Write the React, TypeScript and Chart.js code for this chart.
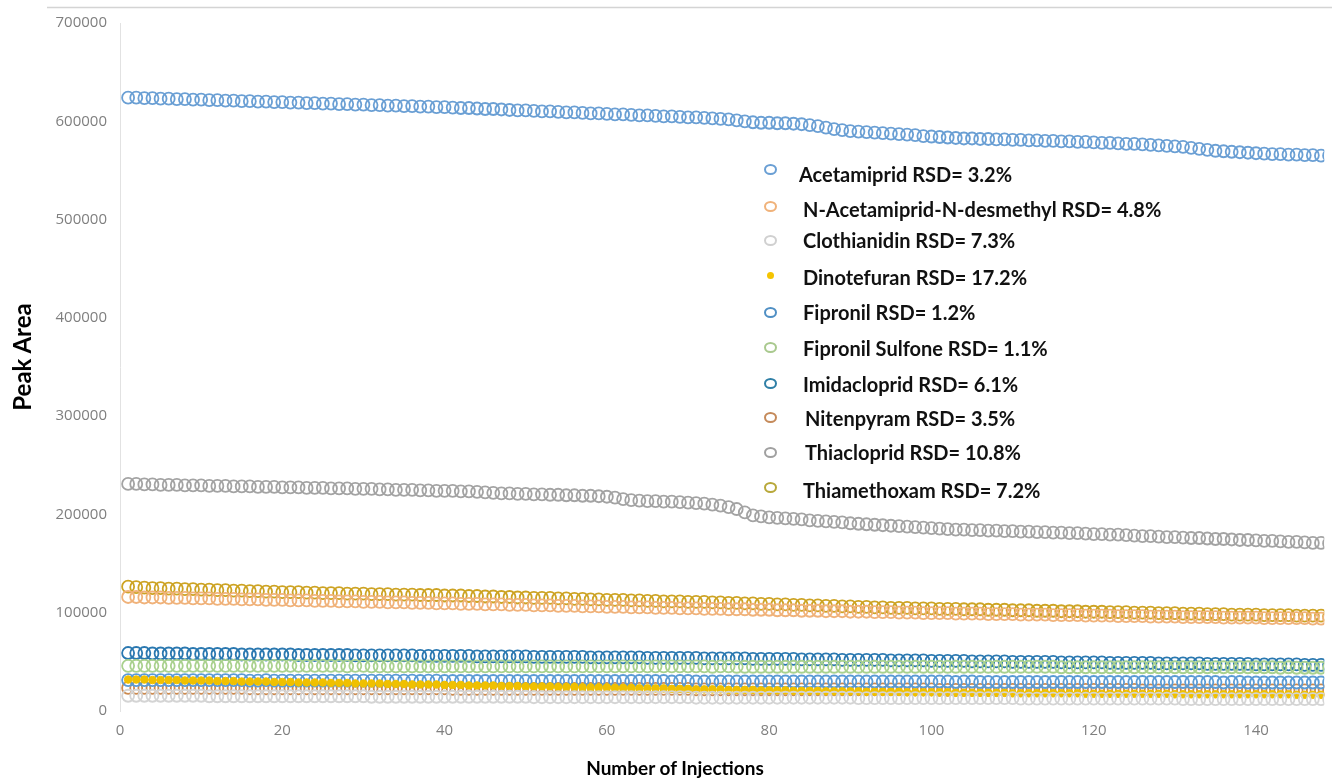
import React, { useEffect, useRef } from "react";
import { Chart, registerables } from "chart.js";

Chart.register(...registerables);

const injections = [
  1, 2, 3, 4, 5, 6, 7, 8, 9, 10, 11, 12, 13, 14, 15, 16, 17, 18, 19, 20,
  21, 22, 23, 24, 25, 26, 27, 28, 29, 30, 31, 32, 33, 34, 35, 36, 37, 38, 39, 40,
  41, 42, 43, 44, 45, 46, 47, 48, 49, 50, 51, 52, 53, 54, 55, 56, 57, 58, 59, 60,
  61, 62, 63, 64, 65, 66, 67, 68, 69, 70, 71, 72, 73, 74, 75, 76, 77, 78, 79, 80,
  81, 82, 83, 84, 85, 86, 87, 88, 89, 90, 91, 92, 93, 94, 95, 96, 97, 98, 99, 100,
  101, 102, 103, 104, 105, 106, 107, 108, 109, 110, 111, 112, 113, 114, 115, 116, 117, 118, 119, 120,
  121, 122, 123, 124, 125, 126, 127, 128, 129, 130, 131, 132, 133, 134, 135, 136, 137, 138, 139, 140,
  141, 142, 143, 144, 145, 146, 147, 148, 149, 150,
];

const compoundNames = [
  "Acetamiprid",
  "N-Acetamiprid-N-desmethyl",
  "Clothianidin",
  "Dinotefuran",
  "Fipronil",
  "Fipronil Sulfone",
  "Imidacloprid",
  "Nitenpyram",
  "Thiacloprid",
  "Thiamethoxam",
];

const rsdValues = ["3.2%", "4.8%", "7.3%", "17.2%", "1.2%", "1.1%", "6.1%", "3.5%", "10.8%", "7.2%"];

const xAxisTitle = "Number of Injections";
const yAxisTitle = "Peak Area";

const acetamiprid = [
  624000, 624000, 623500, 623500, 623000, 623000, 622500, 622500, 622000, 622000,
  621500, 621500, 621000, 621000, 620500, 620500, 620000, 620000, 619500, 619500,
  619000, 619000, 618500, 618500, 618000, 618000, 617500, 617500, 617000, 617000,
  616500, 616500, 616000, 616000, 615500, 615500, 615000, 615000, 614500, 614500,
  614000, 613500, 613500, 613000, 612500, 612500, 612000, 611500, 611000, 611000,
  610500, 610000, 610000, 609500, 609000, 609000, 608500, 608000, 608000, 607500,
  607000, 607000, 606500, 606000, 606000, 605500, 605000, 605000, 604500, 604000,
  604000, 603500, 603000, 602500, 602000, 601000, 600000, 599000, 598500, 598500,
  598000, 598000, 597500, 597000, 596000, 595000, 593500, 592000, 591000, 590000,
  589500, 589000, 588500, 588000, 587500, 587000, 586500, 586000, 585000, 584500,
  584000, 583500, 583000, 582500, 582500, 582000, 582000, 581500, 581500, 581000,
  581000, 580500, 580500, 580000, 580000, 579500, 579500, 579000, 579000, 578500,
  578000, 578000, 577500, 577000, 577000, 576500, 576000, 575500, 575000, 574500,
  574000, 573000, 572000, 571000, 570000, 569500, 569000, 568500, 568000, 567500,
  567000, 566500, 566500, 566000, 566000, 565500, 565500, 565000, 565000, 564500,
];

const nAcetamipridDesmethyl = [
  116000, 116000, 115500, 115500, 115500, 115000, 115000, 115000, 114500, 114500,
  114500, 114000, 114000, 114000, 113500, 113500, 113500, 113000, 113000, 113000,
  112500, 112500, 112500, 112000, 112000, 112000, 111500, 111500, 111500, 111000,
  111000, 111000, 110500, 110500, 110500, 110000, 110000, 110000, 109500, 109500,
  109500, 109000, 109000, 109000, 108500, 108500, 108500, 108000, 108000, 108000,
  107500, 107500, 107500, 107000, 107000, 107000, 106500, 106500, 106500, 106000,
  106000, 106000, 105500, 105500, 105500, 105000, 105000, 105000, 104500, 104500,
  104500, 104000, 104000, 104000, 103500, 103500, 103500, 103000, 103000, 103000,
  102500, 102500, 102500, 102000, 102000, 102000, 101500, 101500, 101500, 101000,
  101000, 101000, 100500, 100500, 100500, 100000, 100000, 100000, 99500, 99500,
  99500, 99500, 99000, 99000, 99000, 99000, 98500, 98500, 98500, 98500,
  98000, 98000, 98000, 98000, 97500, 97500, 97500, 97500, 97000, 97000,
  97000, 97000, 96500, 96500, 96500, 96500, 96000, 96000, 96000, 96000,
  95500, 95500, 95500, 95500, 95500, 95000, 95000, 95000, 95000, 95000,
  94500, 94500, 94500, 94500, 94500, 94500, 94000, 94000, 94000, 94000,
];

const clothianidin = [
  15500, 15500, 15500, 15500, 15500, 15500, 15500, 15500, 15500, 15500,
  15000, 15000, 15000, 15000, 15000, 15000, 15000, 15000, 15000, 15000,
  15000, 15000, 15000, 15000, 15000, 15000, 15000, 15000, 15000, 15000,
  14500, 14500, 14500, 14500, 14500, 14500, 14500, 14500, 14500, 14500,
  14500, 14500, 14500, 14500, 14500, 14500, 14500, 14500, 14500, 14500,
  14000, 14000, 14000, 14000, 14000, 14000, 14000, 14000, 14000, 14000,
  14000, 14000, 14000, 14000, 14000, 14000, 14000, 14000, 14000, 14000,
  13500, 13500, 13500, 13500, 13500, 13500, 13500, 13500, 13500, 13500,
  13500, 13500, 13500, 13500, 13500, 13500, 13500, 13500, 13500, 13500,
  13000, 13000, 13000, 13000, 13000, 13000, 13000, 13000, 13000, 13000,
  13000, 13000, 13000, 13000, 13000, 13000, 13000, 13000, 13000, 13000,
  12500, 12500, 12500, 12500, 12500, 12500, 12500, 12500, 12500, 12500,
  12500, 12500, 12500, 12500, 12500, 12500, 12500, 12500, 12500, 12500,
  12000, 12000, 12000, 12000, 12000, 12000, 12000, 12000, 12000, 12000,
  12000, 12000, 12000, 12000, 12000, 12000, 12000, 12000, 12000, 12000,
];

const dinotefuran = [
  32000, 32000, 32000, 31500, 31500, 31500, 31500, 31000, 31000, 31000,
  31000, 30500, 30500, 30500, 30000, 30000, 30000, 30000, 29500, 29500,
  29500, 29000, 29000, 29000, 29000, 28500, 28500, 28500, 28000, 28000,
  28000, 28000, 27500, 27500, 27500, 27000, 27000, 27000, 27000, 26500,
  26500, 26500, 26000, 26000, 26000, 26000, 25500, 25500, 25500, 25000,
  25000, 25000, 25000, 24500, 24500, 24500, 24000, 24000, 24000, 24000,
  23500, 23500, 23500, 23000, 23000, 23000, 23000, 22500, 22500, 22500,
  22000, 22000, 22000, 22000, 21500, 21500, 21500, 21500, 21000, 21000,
  21000, 21000, 20500, 20500, 20500, 20500, 20000, 20000, 20000, 20000,
  20000, 19500, 19500, 19500, 19500, 19500, 19000, 19000, 19000, 19000,
  19000, 19000, 18500, 18500, 18500, 18500, 18500, 18500, 18500, 18000,
  18000, 18000, 18000, 18000, 18000, 18000, 18000, 18000, 17500, 17500,
  17500, 17500, 17500, 17500, 17500, 17500, 17500, 17500, 17500, 17000,
  17000, 17000, 17000, 17000, 17000, 17000, 17000, 17000, 17000, 17000,
  17000, 17000, 17000, 17000, 16500, 16500, 16500, 16500, 16500, 16500,
];

const fipronil = [
  31500, 31500, 31500, 31500, 31500, 31500, 31500, 31500, 31500, 31500,
  31500, 31500, 31500, 31500, 31500, 31000, 31000, 31500, 31000, 31000,
  31000, 31000, 31000, 31000, 31000, 31000, 31000, 31000, 31000, 31000,
  31000, 31000, 31000, 31000, 31000, 31000, 30500, 31000, 31000, 30500,
  30500, 30500, 30500, 30500, 30500, 30500, 30500, 30500, 30500, 30500,
  30500, 30500, 30500, 30500, 30500, 30500, 30500, 30500, 30500, 30500,
  30500, 30500, 30500, 30500, 30500, 30500, 30500, 30000, 30500, 30500,
  30000, 30000, 30000, 30000, 30000, 30000, 30000, 30000, 30000, 30000,
  30000, 30000, 30000, 30000, 30000, 30000, 30000, 30000, 30000, 30000,
  30000, 30000, 30000, 30000, 30000, 30000, 30000, 30000, 30000, 30000,
  30000, 30000, 29500, 30000, 30000, 29500, 29500, 29500, 29500, 29500,
  29500, 29500, 29500, 29500, 29500, 29500, 29500, 29500, 29500, 29500,
  29500, 29500, 29500, 29500, 29500, 29500, 29500, 29500, 29500, 29500,
  29500, 29500, 29500, 29500, 29500, 29000, 29500, 29500, 29000, 29000,
  29000, 29000, 29000, 29000, 29000, 29000, 29000, 29000, 29000, 29000,
];

const fipronilSulfone = [
  46000, 46000, 46000, 46000, 46000, 46000, 46000, 46000, 46000, 46000,
  46000, 46000, 46000, 46000, 46000, 46000, 46000, 46000, 46000, 46000,
  46000, 46000, 46000, 46000, 46000, 46000, 46000, 45500, 46000, 46000,
  45500, 45500, 45500, 45500, 45500, 45500, 45500, 45500, 45500, 45500,
  45500, 45500, 45500, 45500, 45500, 45500, 45500, 45500, 45500, 45500,
  45500, 45500, 45500, 45500, 45500, 45500, 45500, 45500, 45500, 45500,
  45500, 45500, 45500, 45500, 45500, 45500, 45500, 45500, 45500, 45500,
  45500, 45500, 45000, 45500, 45500, 45000, 45000, 45000, 45000, 45000,
  45000, 45000, 45000, 45000, 45000, 45000, 45000, 45000, 45000, 45000,
  45000, 45000, 45000, 45000, 45000, 45000, 45000, 45000, 45000, 45000,
  45000, 45000, 45000, 45000, 45000, 45000, 45000, 45000, 45000, 45000,
  45000, 45000, 45000, 45000, 45000, 44500, 44500, 44500, 44500, 44500,
  44500, 44500, 44500, 44500, 44500, 44500, 44500, 44500, 44500, 44500,
  44500, 44500, 44500, 44500, 44500, 44500, 44500, 44500, 44500, 44500,
  44500, 44500, 44000, 44500, 44000, 44000, 44000, 44000, 44000, 44000,
];

const imidacloprid = [
  59000, 59000, 59000, 58500, 58500, 58500, 58500, 58500, 58000, 58000,
  58000, 58000, 58000, 58000, 57500, 57500, 57500, 57500, 57500, 57500,
  57500, 57000, 57000, 57000, 57000, 57000, 57000, 57000, 56500, 56500,
  56500, 56500, 56500, 56500, 56500, 56500, 56000, 56000, 56000, 56000,
  56000, 56000, 56000, 55500, 55500, 55500, 55500, 55500, 55500, 55500,
  55000, 55000, 55000, 55000, 55000, 55000, 55000, 54500, 54500, 54500,
  54500, 54500, 54500, 54500, 54000, 54000, 54000, 54000, 54000, 54000,
  54000, 53500, 53500, 53500, 53500, 53500, 53500, 53000, 53000, 53000,
  53000, 53000, 53000, 52500, 52500, 52500, 52500, 52500, 52000, 52000,
  52000, 52000, 52000, 52000, 51500, 51500, 51500, 51500, 51500, 51000,
  51000, 51000, 51000, 51000, 50500, 50500, 50500, 50500, 50500, 50000,
  50000, 50000, 50000, 50000, 50000, 49500, 49500, 49500, 49500, 49500,
  49500, 49000, 49000, 49000, 49000, 49000, 49000, 48500, 48500, 48500,
  48500, 48500, 48500, 48000, 48000, 48000, 48000, 48000, 48000, 47500,
  47500, 47500, 47500, 47500, 47500, 47000, 47000, 47000, 47000, 47000,
];

const nitenpyram = [
  23500, 23500, 23500, 23500, 23500, 23500, 23500, 23500, 23500, 23500,
  23500, 23500, 23500, 23500, 23500, 23000, 23000, 23000, 23000, 23000,
  23000, 23000, 23000, 23000, 23000, 23000, 23000, 23000, 23000, 23000,
  23000, 23000, 23000, 23000, 23000, 23000, 23000, 23000, 23000, 23000,
  22500, 22500, 22500, 22500, 22500, 22500, 22500, 22500, 22500, 22500,
  22500, 22500, 22500, 22500, 22500, 22500, 22500, 22500, 22500, 22500,
  22500, 22500, 22500, 22500, 22500, 22500, 22500, 22500, 22500, 22500,
  22000, 22000, 22000, 22000, 22000, 22000, 22000, 22000, 22000, 22000,
  22000, 22000, 22000, 22000, 22000, 22000, 22000, 22000, 22000, 22000,
  22000, 22000, 22000, 22000, 22000, 22000, 22000, 22000, 22000, 22000,
  21500, 21500, 21500, 21500, 21500, 21500, 21500, 21500, 21500, 21500,
  21500, 21500, 21500, 21500, 21500, 21500, 21500, 21500, 21500, 21500,
  21500, 21500, 21500, 21500, 21500, 21000, 21000, 21000, 21000, 21000,
  21000, 21000, 21000, 21000, 21000, 21000, 21000, 21000, 21000, 21000,
  21000, 21000, 21000, 21000, 21000, 21000, 21000, 21000, 21000, 21000,
];

const thiacloprid = [
  231000, 231000, 230500, 230500, 230000, 230000, 230000, 229500, 229500, 229500,
  229000, 229000, 229000, 228500, 228500, 228500, 228000, 228000, 228000, 227500,
  227500, 227500, 227000, 227000, 227000, 226500, 226500, 226500, 226000, 226000,
  226000, 225500, 225500, 225000, 225000, 225000, 224500, 224500, 224000, 224000,
  224000, 223500, 223500, 223000, 222500, 222000, 221500, 221500, 221000, 221000,
  220500, 220500, 220000, 220000, 219500, 219500, 219000, 219000, 218500, 218000,
  217000, 215500, 214500, 214000, 213500, 213500, 213000, 213000, 212500, 212000,
  211500, 211000, 210000, 209000, 207500, 205500, 202000, 199000, 198000, 197000,
  196500, 196000, 195500, 195000, 194000, 193500, 193000, 192500, 192000, 191000,
  190500, 190000, 189500, 189000, 188500, 188000, 187500, 187000, 186500, 186000,
  185500, 185000, 184500, 184500, 184000, 184000, 183500, 183500, 183000, 183000,
  182500, 182500, 182000, 182000, 181500, 181500, 181000, 181000, 180500, 180000,
  180000, 179500, 179500, 179000, 178500, 178000, 178000, 177500, 177000, 177000,
  176500, 176000, 176000, 175500, 175000, 175000, 174500, 174000, 174000, 173500,
  173000, 173000, 172500, 172000, 172000, 171500, 171000, 171000, 170500, 170000,
];

const thiamethoxam = [
  126500, 126000, 125500, 125000, 125000, 124500, 124500, 124000, 124000, 123500,
  123500, 123000, 123000, 122500, 122500, 122000, 122000, 121500, 121500, 121000,
  121000, 121000, 120500, 120500, 120000, 120000, 120000, 119500, 119500, 119500,
  119000, 119000, 119000, 118500, 118500, 118500, 118000, 118000, 118000, 117500,
  117500, 117500, 117000, 117000, 116500, 116500, 116000, 116000, 115500, 115500,
  115000, 115000, 115000, 114500, 114500, 114000, 114000, 113500, 113500, 113000,
  113000, 113000, 112500, 112500, 112000, 112000, 111500, 111500, 111500, 111000,
  111000, 111000, 110500, 110500, 110000, 110000, 109500, 109500, 109000, 109000,
  108500, 108500, 108000, 108000, 107500, 107500, 107000, 107000, 106500, 106500,
  106000, 106000, 105500, 105500, 105000, 105000, 105000, 104500, 104500, 104500,
  104000, 104000, 104000, 103500, 103500, 103500, 103000, 103000, 103000, 102500,
  102500, 102500, 102000, 102000, 102000, 101500, 101500, 101500, 101000, 101000,
  101000, 100500, 100500, 100500, 100000, 100000, 100000, 99500, 99500, 99500,
  99000, 99000, 99000, 98500, 98500, 98500, 98000, 98000, 98000, 98000,
  97500, 97500, 97500, 97500, 97000, 97000, 97000, 97000, 96500, 96500,
];

const seriesValues = [
  acetamiprid,
  nAcetamipridDesmethyl,
  clothianidin,
  dinotefuran,
  fipronil,
  fipronilSulfone,
  imidacloprid,
  nitenpyram,
  thiacloprid,
  thiamethoxam,
];

const seriesColors = [
  "#6a9fd4",
  "#f0b27a",
  "#d4d4d4",
  "#f0c000",
  "#5b9bd5",
  "#a9d18e",
  "#2a78b0",
  "#cc8a4f",
  "#a3a3a3",
  "#cda323",
];

const legendMarkerColors = [
  "#6a9fd4",
  "#f0b27a",
  "#d0d0d0",
  "#f5c400",
  "#4f8fc4",
  "#a9c98e",
  "#2f7fa6",
  "#c58a5a",
  "#a0a0a0",
  "#b8a83a",
];

const yTickStep = 100000;
const xTickStep = 20;

// legend layout (pixel positions in the picture)
const legendRows = [
  { my: 169, ty: 174, tx: 799 },
  { my: 206, ty: 209, tx: 803 },
  { my: 240, ty: 240, tx: 803 },
  { my: 275, ty: 277, tx: 803 },
  { my: 312, ty: 312, tx: 803 },
  { my: 347, ty: 348, tx: 803 },
  { my: 383, ty: 384, tx: 803 },
  { my: 417, ty: 418, tx: 805 },
  { my: 452, ty: 452, tx: 805 },
  { my: 487, ty: 490, tx: 803 },
];

const topLinePlugin = {
  id: "topLine",
  beforeDraw(chart: any) {
    const ctx = chart.ctx;
    ctx.save();
    ctx.fillStyle = "#ffffff";
    ctx.fillRect(0, 0, chart.width, chart.height);
    ctx.strokeStyle = "#d4d4d4";
    ctx.lineWidth = 1.5;
    ctx.beginPath();
    ctx.moveTo(47, 7.5);
    ctx.lineTo(chart.width, 7.5);
    ctx.stroke();
    ctx.restore();
  },
};

export default function App() {
  const ref = useRef<HTMLCanvasElement>(null);

  useEffect(() => {
    if (!ref.current) return;
    const datasets = seriesValues.map((vals, i) => ({
      label: compoundNames[i],
      data: injections.map((x, j) => ({ x, y: vals[j] })),
      showLine: false,
      pointRadius: i === 3 ? 3.8 : 6,
      pointBorderWidth: i === 3 ? 1 : 1.8,
      pointBorderColor: seriesColors[i],
      pointBackgroundColor: i === 3 ? seriesColors[i] : "rgba(0,0,0,0)",
    }));
    const chart = new Chart(ref.current, {
      type: "scatter",
      data: { datasets },
      plugins: [topLinePlugin],
      options: {
        responsive: false,
        animation: false,
        devicePixelRatio: 1,
        layout: { padding: { top: 23, right: 0, bottom: 0, left: 0 } },
        plugins: {
          legend: { display: false },
          tooltip: { enabled: false },
        },
        scales: {
          x: {
            type: "linear",
            min: 0,
            max: 148.4,
            ticks: {
              stepSize: xTickStep,
              includeBounds: false,
              maxRotation: 0,
              padding: 11,
              color: "#7f7f7f",
              font: { family: "Open Sans", size: 15 },
              callback: (v: any) => String(v),
            },
            grid: { display: false, drawTicks: false },
            border: { display: false },
            title: { display: false },
            afterFit: (s: any) => {
              s.height = 72;
            },
          },
          y: {
            min: 0,
            max: 700000,
            ticks: {
              stepSize: yTickStep,
              padding: 13,
              color: "#7f7f7f",
              font: { family: "Open Sans", size: 15 },
              callback: (v: any) => String(v),
            },
            grid: { display: false, drawTicks: false },
            border: { display: true, color: "#e2e2e2", width: 1 },
            title: { display: false },
            afterFit: (s: any) => {
              s.width = 120;
            },
          },
        },
      },
    } as any);
    return () => chart.destroy();
  }, []);

  return (
    <div
      style={{
        position: "absolute",
        left: 0,
        top: 0,
        width: 1332,
        height: 783,
        overflow: "hidden",
        background: "#fff",
      }}
    >
      <canvas ref={ref} width={1332} height={783} style={{ display: "block" }} />
      <div
        style={{
          position: "absolute",
          left: 22 - 100,
          top: 357 - 15,
          width: 200,
          height: 30,
          lineHeight: "30px",
          textAlign: "center",
          transform: "rotate(-90deg)",
          fontFamily: "Lato, sans-serif",
          fontWeight: 700,
          fontSize: 24,
          color: "#000",
          whiteSpace: "nowrap",
        }}
      >
        {yAxisTitle}
      </div>
      <div
        style={{
          position: "absolute",
          left: 675 - 150,
          top: 768 - 12,
          width: 300,
          height: 24,
          lineHeight: "24px",
          textAlign: "center",
          fontFamily: "Lato, sans-serif",
          fontWeight: 700,
          fontSize: 19,
          color: "#000",
          whiteSpace: "nowrap",
        }}
      >
        {xAxisTitle}
      </div>
      {compoundNames.map((name, i) => {
        const r = legendRows[i];
        const filled = i === 3;
        return (
          <React.Fragment key={name}>
            <div
              style={{
                position: "absolute",
                left: filled ? 767 : 764,
                top: filled ? r.my - 3.5 : r.my - 5.5,
                width: filled ? 7 : 9,
                height: 7,
                borderRadius: "50%",
                border: filled ? "none" : `2px solid ${legendMarkerColors[i]}`,
                background: filled ? legendMarkerColors[i] : "transparent",
              }}
            />
            <div
              style={{
                position: "absolute",
                left: r.tx,
                top: r.ty - 12,
                height: 24,
                lineHeight: "24px",
                fontFamily: "Lato, sans-serif",
                fontWeight: 700,
                fontSize: 20,
                color: "#111",
                whiteSpace: "nowrap",
              }}
            >
              {`${name} RSD= ${rsdValues[i]}`}
            </div>
          </React.Fragment>
        );
      })}
    </div>
  );
}
